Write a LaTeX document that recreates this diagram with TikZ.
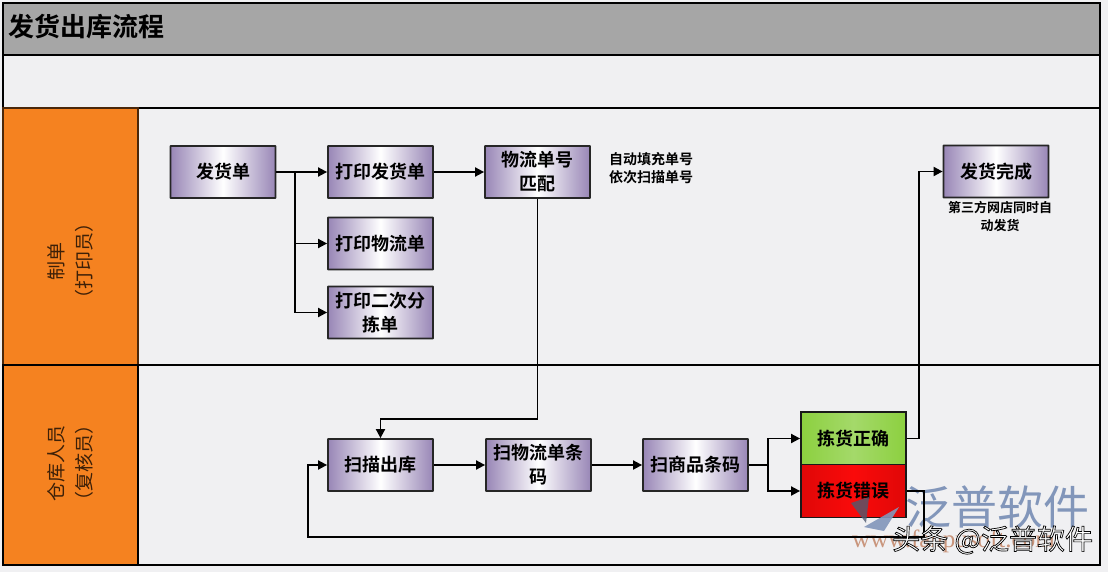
\documentclass[tikz,border=0pt]{standalone}
\usepackage{fontspec}
\setmainfont{Noto Sans CJK SC}[BoldFont={Noto Sans CJK SC Bold}]
\newfontfamily\wwwfont{Liberation Serif}
\usetikzlibrary{arrows.meta}
\definecolor{lanebg}{HTML}{F0F0F2}
\definecolor{headgray}{HTML}{A6A6A6}
\definecolor{laneorange}{HTML}{F58220}
\definecolor{boxpurple}{HTML}{9886B6}
\definecolor{okgreen}{HTML}{8CD03F}
\definecolor{okgreenb}{HTML}{A4D96A}
\definecolor{badred}{HTML}{FA0A0A}
\definecolor{badredb}{HTML}{E00808}
\definecolor{wmblue}{HTML}{8296BA}
\definecolor{wmorange}{HTML}{C9957C}
\newcommand{\outlinetext}[1]{\special{pdf:code q 2 Tr 0.7 w 0 0 0 RG 1 1 1 rg}#1\special{pdf:code Q}}
\tikzset{
  x=1pt,y=-1pt,
  band/.style={draw=black,line width=1.8pt},
  lanelabel/.style={rotate=90,align=center,font=\fontsize{19}{28}\selectfont,text=black!75!laneorange,inner sep=0pt},
  flow/.style={minimum width=105pt,minimum height=52pt,inner sep=1pt,draw=black!85,line width=1.8pt,rounded corners=0.5pt,
     left color=boxpurple,right color=boxpurple,middle color=white,shading angle=90,
     align=center,text width=98pt,font=\bfseries\fontsize{18}{24}\selectfont,text=black},
  flat/.style={minimum width=105pt,minimum height=53pt,inner sep=1pt,draw=black!90,line width=1.8pt,
     align=center,font=\bfseries\fontsize{18}{24}\selectfont,text=black},
  note/.style={align=center,inner sep=0pt,font=\bfseries\fontsize{13}{18}\selectfont,text=black},
  conn/.style={draw=black,line width=1.8pt,-{Triangle[length=9pt,width=9pt]}},
  plain/.style={draw=black,line width=1.8pt},
}
\begin{document}
\begin{tikzpicture}
\useasboundingbox (0,0) rectangle (1108,572);
\fill[lanebg] (0,0) rectangle (1108,572);
% bands
\filldraw[band,fill=headgray] (3,3) rectangle (1100,55);
\filldraw[band,fill=lanebg] (3,55) rectangle (1100,108);
\filldraw[band,fill=lanebg] (138,108) rectangle (1100,365);
\filldraw[band,fill=lanebg] (138,365) rectangle (1100,565);
\filldraw[draw=black!70!laneorange,line width=1.4pt,fill=laneorange] (3,108) rectangle (138,365);
\filldraw[band,fill=laneorange] (3,365) rectangle (138,565);
\node[anchor=west,inner sep=0pt,font=\bfseries\fontsize{26}{30}\selectfont] (title) at (8,27) {发货出库流程};
\node[lanelabel] (lane1) at (70,261) {制单\\（打印员）};
\node[lanelabel] (lane2) at (70,463) {仓库人员\\（复核员）};
% watermark behind the flow
\node[anchor=west,inner sep=0pt,font=\fontsize{46}{50}\selectfont,text=wmblue] (wm) at (905,507) {泛普软件};
\node[anchor=west,inner sep=0pt,font=\wwwfont\fontsize{25}{28}\selectfont,text=wmorange] (www) at (852,541) {www.fanpusoft.com};
% boxes
\node[flow] (fhd) at (223,172) {发货单};
\node[flow] (dyfh) at (380.5,172) {打印发货单};
\node[flow] (dywl) at (380.5,243.5) {打印物流单};
\node[flow] (dyec) at (380.5,312.5) {打印二次分\\拣单};
\node[flow] (wlpp) at (537.5,172) {物流单号\\匹配};
\node[flow] (fhwc) at (996,171.5) {发货完成};
\node[flow] (smck) at (380.5,465) {扫描出库};
\node[flow] (swl) at (538.5,465) {扫物流单条\\码};
\node[flow] (ssp) at (695.5,465) {扫商品条码};
\node[flat,left color=okgreen,right color=okgreen,middle color=okgreenb] (ok) at (853.5,438.5) {拣货正确};
\node[flat,left color=badredb,right color=badredb,middle color=badred] (bad) at (853.5,491) {拣货错误};
\node[note,anchor=west] (n1) at (609,170) {\begin{tabular}{@{}l@{}}\fontsize{14}{18}\selectfont 自动填充单号\\\fontsize{14}{18}\selectfont 依次扫描单号\end{tabular}};
\node[note] (n2) at (1000,216) {第三方网店同时自\\动发货};
% connector waypoints
\coordinate (tr) at (295,172);
\coordinate (lp) at (380.5,419);
\coordinate (sp) at (768,465);
\coordinate (okr) at (919,438.5);
\coordinate (lb) at (924,537);
\coordinate (ll) at (308,537);
% connectors
\draw[conn] (fhd.east) -- (dyfh.west);
\draw[conn] (tr) |- (dywl.west);
\draw[conn] (tr) |- (dyec.west);
\draw[conn] (dyfh.east) -- (wlpp.west);
\draw[conn] (wlpp.south) |- (lp) -- (smck.north);
\draw[conn] (smck.east) -- (swl.west);
\draw[conn] (swl.east) -- (ssp.west);
\draw[plain] (ssp.east) -- (sp);
\draw[conn] (sp) |- (ok.west);
\draw[conn] (sp) |- (bad.west);
\draw[conn] (ok.east) -- (okr) |- (fhwc.west);
\draw[conn] (bad.east) -| (lb) -- (ll) |- (smck.west);
% logo and overlay, on top of the flow
\fill[black!40!wmblue,opacity=.8] (851,503) -- (869,497) -- (866,523) -- cycle;
\fill[wmblue,opacity=.9] (864,527) -- (899,507) -- (884,531) -- cycle;
\node[anchor=west,inner sep=0pt,font=\fontsize{28}{32}\selectfont] (tt) at (892,540) {\outlinetext{头条 @泛普软件}};
\end{tikzpicture}
\end{document}
